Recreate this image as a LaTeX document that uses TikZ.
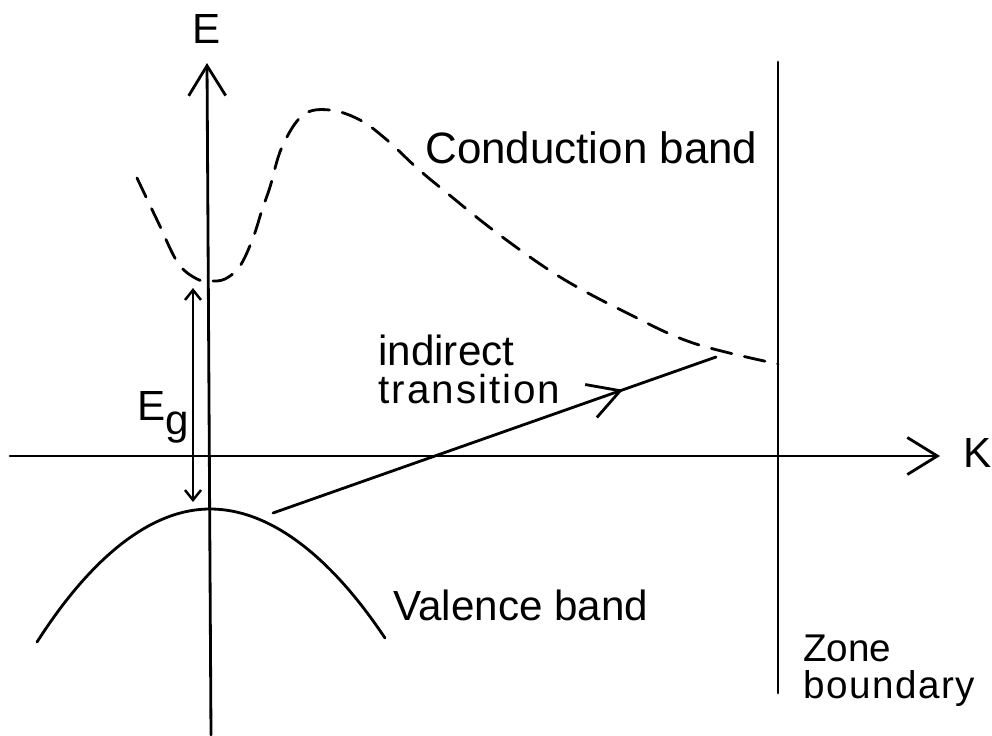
\documentclass[tikz,border=0pt]{standalone}
\usepackage{fontspec}
\setmainfont{Liberation Sans}
\usetikzlibrary{arrows.meta,decorations.markings}

\tikzset{
  band/.style={line width=1.6pt},
  cband/.style={band, dash pattern=on 0.42cm off 0.26cm},
  lbl/.style={font=\fontsize{24}{28}\selectfont, inner sep=0pt},
  smalllbl/.style={lbl, font=\fontsize{22}{26}\selectfont},
  midarrow/.style={postaction={decorate}, decoration={markings,
      mark=at position #1 with {\arrow{Straight Barb[length=6.2mm,width=7mm]}}}},
}

\begin{document}
\begin{tikzpicture}[x=0.02cm, y=-0.02cm, line cap=round, line join=round, >={Straight Barb[length=6mm,width=7.4mm]}]
	\useasboundingbox (0,0) rectangle (992,735);
	% axes
	\coordinate (eaxbot) at (211,735);
	\coordinate (eaxtop) at (207,63);
	\coordinate (kaxleft) at (10,456);
	\coordinate (kaxright) at (940,456);
	\draw[band,->] (eaxbot) -- (eaxtop);
	\draw[band,->] (kaxleft) -- (kaxright);
	\node[lbl, anchor=base] (elab) at (207,43) {E};
	\node[lbl, anchor=base west] (klab) at (963,467) {K};
	% zone boundary
	\coordinate (zbtop) at (778,62);
	\coordinate (zbbot) at (778,693);
	\draw[band] (zbtop) -- (zbbot);
	\node[smalllbl, anchor=base west] (zone) at (803,661) {Zone};
	\node[smalllbl, anchor=base west] (bound) at (803,698) {\addfontfeatures{LetterSpace=4}boundary};
	% conduction band
	\draw[cband] plot[smooth, tension=0.6] coordinates {(137,178) (158,222) (178,263) (197,279) (210,281) (225,279) (240,266) (253,238) (262,210) (270,187) (282,147) (303,115) (330,110) (360,120) (387,140) (417,168) (447,193) (497,233) (560,277) (627,313) (693,343) (778,364)};
	\node[lbl, font=\fontsize{25}{30}\selectfont, anchor=base west] (clab) at (425,163) {Conduction band};
	% valence band
	\coordinate (vleft) at (37,642);
	\coordinate (vtop) at (210,509);
	\coordinate (vright) at (385,638);
	\draw[band] (vleft) parabola bend (vtop) (vright);
	\node[lbl, anchor=base west] (vlab) at (393,620) {Valence band};
	% band gap
	\coordinate (egtop) at (193,288);
	\coordinate (egbot) at (193,502);
	\draw[line width=1.4pt, {Straight Barb[length=2mm,width=3.2mm]}-{Straight Barb[length=2mm,width=3.2mm]}] (egtop) -- (egbot);
	\node[lbl, anchor=base west] (eglab) at (137,420) {E\raisebox{-8pt}{g}};
	% indirect transition
	\coordinate (trstart) at (273,513);
	\coordinate (trend) at (716,357);
	\draw[band, midarrow=0.79] (trstart) -- (trend);
	\node[lbl, anchor=base west] (trlab1) at (378,365) {indirect};
	\node[lbl, font=\fontsize{23}{28}\selectfont, anchor=base west] (trlab2) at (378,403) {\addfontfeatures{LetterSpace=5}transition};
\end{tikzpicture}
\end{document}
